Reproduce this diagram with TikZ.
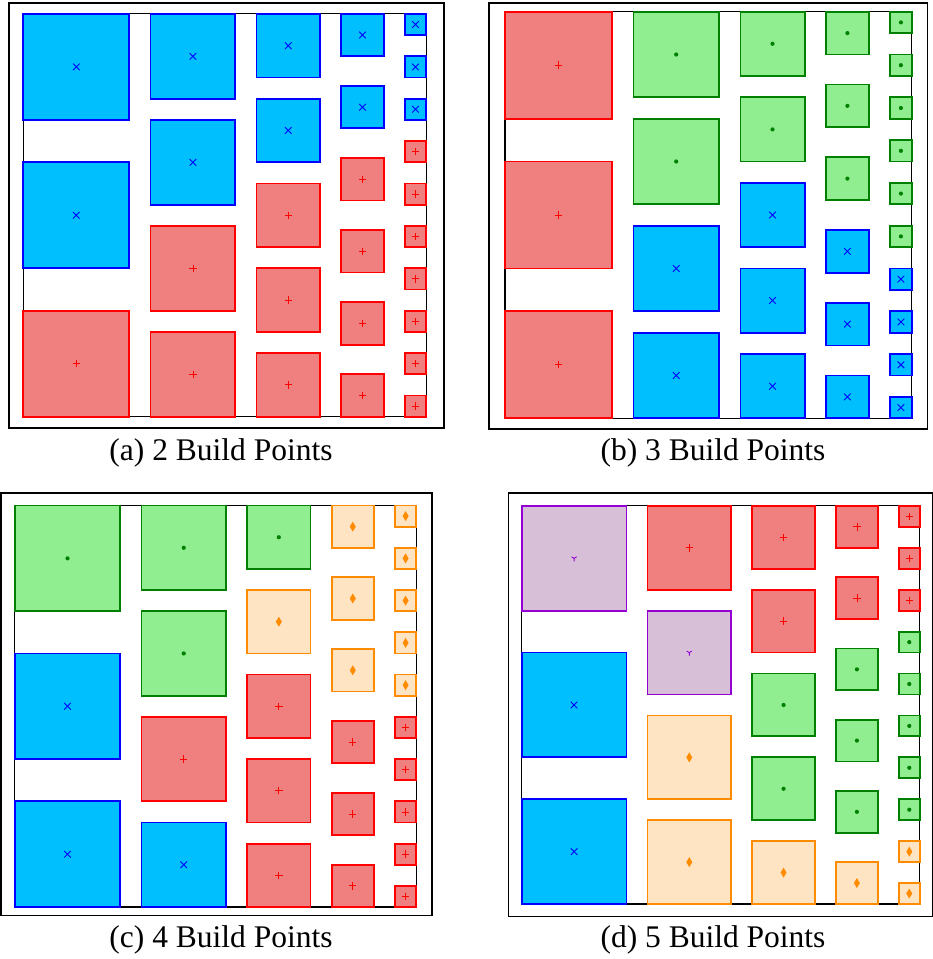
\documentclass[tikz,border=0pt]{standalone}
\usepackage{fontspec}
\setmainfont{Liberation Serif}

\definecolor{bpbfill}{HTML}{00BFFF}
\definecolor{bpbline}{HTML}{0000FF}
\definecolor{bprfill}{HTML}{F08080}
\definecolor{bprline}{HTML}{FF0000}
\definecolor{bpgfill}{HTML}{90EE90}
\definecolor{bpgline}{HTML}{008000}
\definecolor{bpofill}{HTML}{FFE4C4}
\definecolor{bpoline}{HTML}{FF8C00}
\definecolor{bppfill}{HTML}{D8BFD8}
\definecolor{bppline}{HTML}{9400D3}

\tikzset{
  bpsq/.style={line width=1.8pt},
  bpb/.style={bpsq, fill=bpbfill, draw=bpbline},
  bpr/.style={bpsq, fill=bprfill, draw=bprline},
  bpg/.style={bpsq, fill=bpgfill, draw=bpgline},
  bpo/.style={bpsq, fill=bpofill, draw=bpoline},
  bpp/.style={bpsq, fill=bppfill, draw=bppline},
  bpframe/.style={draw=black, line width=1.1pt},
  bpouter/.style={draw=black, line width=1.2pt},
  caption/.style={anchor=base, font=\fontsize{31.5}{33}\selectfont},
  % markers at the square centres
  pics/mkb/.style={code={\draw[bpbline, line width=0.9pt] (-3.3pt,-3.3pt) -- (3.3pt,3.3pt) (-3.3pt,3.3pt) -- (3.3pt,-3.3pt);}},
  pics/mkr/.style={code={\draw[bprline, line width=0.8pt] (-3.7pt,0) -- (3.7pt,0) (0,-3.7pt) -- (0,3.7pt);}},
  pics/mkg/.style={code={\fill[bpgline] (0,0) circle (2.1pt);}},
  pics/mko/.style={code={\fill[bpoline] (0,5pt) -- (3pt,0) -- (0,-5pt) -- (-3pt,0) -- cycle;}},
  pics/mkp/.style={code={\draw[bppline, line width=0.9pt] (0,0) -- (0,-3pt) (0,0) -- (2.6pt,1.5pt) (0,0) -- (-2.6pt,1.5pt);}},
}

% one column: x start, square size, count, colours top to bottom
\newcommand{\bpcolumn}[4]{%
  \foreach \c [count=\j from 0] in {#4} {
    \pgfmathsetmacro{\ytop}{19-\j*(#2+(19-#3*#2)/(#3-1))}
    \draw[bp\c] (#1,\ytop) rectangle ++(#2,-#2);
    \pic at (#1+#2/2,\ytop-#2/2) {mk\c};
  }}

% one panel: inner origin, unit, five columns
\newcommand{\bppanel}[7]{%
  \begin{scope}[shift={#1}, x=#2pt, y=#2pt]
    \draw[bpframe] (0,0) rectangle (19,19);
    \bpcolumn{0}{5}{3}{#3}
    \bpcolumn{6}{4}{4}{#4}
    \bpcolumn{11}{3}{5}{#5}
    \bpcolumn{15}{2}{6}{#6}
    \bpcolumn{18}{1}{10}{#7}
  \end{scope}}

\begin{document}
\begin{tikzpicture}[x=1pt, y=1pt]
  \useasboundingbox (0,0) rectangle (933,959);

  % outer frames
  \draw[bpouter] (9,531) rectangle (444,956);
  \draw[bpouter] (489,530) rectangle (927.5,956);
  \draw[bpouter] (1,43.3) rectangle (432,466);
  \draw[bpouter] (508.3,42.3) rectangle (932.2,466);

  % (a) 2 build points
  \bppanel{(23.3,542.3)}{21.2}{b,b,r}{b,b,r,r}{b,b,r,r,r}{b,b,r,r,r,r}{b,b,b,r,r,r,r,r,r,r}
  % (b) 3 build points
  \bppanel{(505,540.7)}{21.4}{r,r,r}{g,g,b,b}{g,g,b,b,b}{g,g,g,b,b,b}{g,g,g,g,g,g,b,b,b,b}
  % (c) 4 build points
  \bppanel{(14.7,52)}{21.13}{g,b,b}{g,g,r,b}{g,o,r,r,r}{o,o,o,r,r,r}{o,o,o,o,o,r,r,r,r,r}
  % (d) 5 build points
  \bppanel{(521.7,55)}{20.95}{p,b,b}{r,p,o,o}{r,r,g,g,o}{r,r,g,g,g,o}{r,r,r,g,g,g,g,g,o,o}

  % captions
  \node[caption] (capa) at (221,498.5) {(a) 2 Build Points};
  \node[caption] (capb) at (713,498.5) {(b) 3 Build Points};
  \node[caption] (capc) at (221,12) {(c) 4 Build Points};
  \node[caption] (capd) at (713,12) {(d) 5 Build Points};
\end{tikzpicture}
\end{document}
